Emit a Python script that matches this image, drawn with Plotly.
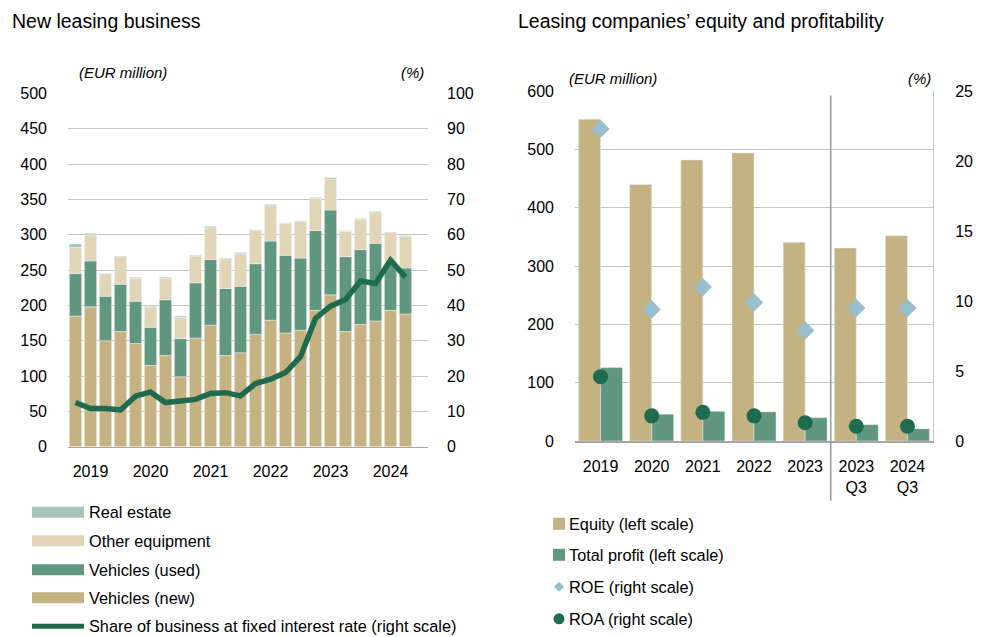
import plotly.graph_objects as go
import numpy as np

# ---------------- data ----------------
quarters = [f"{y} Q{q}" for y in range(2019, 2025) for q in range(1, 5)][:23]
year_ticks = ["2019 Q2", "2020 Q2", "2021 Q2", "2022 Q2", "2023 Q2", "2024 Q2"]
year_labels = ["2019", "2020", "2021", "2022", "2023", "2024"]

vehicles_new = [185, 198, 150, 163, 146, 115, 129, 99, 154, 172, 129, 133,
                159, 179, 161, 165, 193, 215, 163, 173, 178, 193, 188]
vehicles_used = [60, 65, 63, 67, 60, 54, 79, 54, 78, 93, 95, 94,
                 100, 112, 110, 102, 113, 120, 106, 106, 110, 67, 65]
other_equipment = [37, 37, 32, 39, 32, 29, 30, 30, 38, 45, 42, 46,
                   47, 50, 45, 52, 46, 44, 36, 43, 43, 43, 45]
real_estate = [5, 2, 1, 1, 2, 1, 2, 2, 1, 2, 1, 2,
               1, 2, 1, 1, 1, 2, 1, 1, 2, 1, 1]
fixed_share = [12.5, 10.8, 10.8, 10.4, 14.3, 15.5, 12.5, 13.0, 13.4, 15.1, 15.3, 14.4,
               17.9, 19.1, 21.0, 25.5, 36.3, 39.8, 41.7, 46.9, 46.2, 52.8, 48.0]

periods = ["2019", "2020", "2021", "2022", "2023", "2023 Q3", "2024 Q3"]
period_labels = ["2019", "2020", "2021", "2022", "2023", "2023<br>Q3", "2024<br>Q3"]
equity = [552, 440, 482, 494, 341, 331, 352]
total_profit = [126, 46, 51, 50, 40, 28, 21]
roe = [22.3, 9.4, 11.0, 9.9, 7.9, 9.5, 9.5]
roa = [4.6, 1.8, 2.05, 1.8, 1.3, 1.05, 1.05]

# ---------------- style ----------------
C_NEW = "#C5B283"
C_USED = "#62977F"
C_OTHER = "#E0D5B7"
C_RE = "#A6C6BA"
C_LINE = "#1E6B4E"
C_ROE = "#98BFCF"
GRID = "#C4C4C4"
AXIS = "#A6A6A6"
FONT = "Liberation Sans, Arial, sans-serif"

W, H = 985, 637
# vertical placement calibrated to the rendered picture
Y_OFF, Y_SCALE = 7.6, 0.9726
def px(x):
    return x / W
def py(y):
    return 1 - ((y - Y_OFF) / Y_SCALE) / H

fig = go.Figure()

# left stacked bars via cumulative bases
b_new = np.zeros(len(quarters))
b_used = b_new + np.array(vehicles_new)
b_other = b_used + np.array(vehicles_used)
b_re = b_other + np.array(other_equipment)
for name, vals, base, col in [
    ("Vehicles (new)", vehicles_new, b_new, C_NEW),
    ("Vehicles (used)", vehicles_used, b_used, C_USED),
    ("Other equipment", other_equipment, b_other, C_OTHER),
    ("Real estate", real_estate, b_re, C_RE),
]:
    fig.add_trace(go.Bar(x=quarters, y=vals, base=base, name=name, marker_color=col,
                         marker_line=dict(width=0.5, color="rgba(255,255,255,0.8)"),
                         width=0.82, xaxis="x", yaxis="y", showlegend=False))

fig.add_trace(go.Scatter(x=quarters, y=fixed_share, mode="lines",
                         line=dict(color=C_LINE, width=5.5),
                         xaxis="x", yaxis="y2", showlegend=False))

# right chart
fig.add_trace(go.Bar(x=periods, y=equity, marker_color=C_NEW, width=0.43, offset=-0.43,
                     xaxis="x2", yaxis="y3", showlegend=False))
fig.add_trace(go.Bar(x=periods, y=total_profit, marker_color=C_USED, width=0.43, offset=0.0,
                     xaxis="x2", yaxis="y3", showlegend=False))
fig.add_trace(go.Scatter(x=periods, y=roe, mode="markers",
                         marker=dict(symbol="diamond", size=14, color=C_ROE),
                         xaxis="x2", yaxis="y4", showlegend=False))
fig.add_trace(go.Scatter(x=periods, y=roa, mode="markers",
                         marker=dict(symbol="circle", size=15, color=C_LINE),
                         xaxis="x2", yaxis="y4", showlegend=False))

tickfont = dict(family=FONT, size=16, color="#000")

fig.update_layout(
    width=W, height=H, margin=dict(l=0, r=0, t=0, b=0),
    paper_bgcolor="white", plot_bgcolor="white",
    barmode="overlay", font=dict(family=FONT, color="#000"),
    xaxis=dict(domain=[px(68), px(428)], anchor="y", type="category",
               range=[-0.5, 23.5], tickvals=year_ticks, ticktext=year_labels,
               showline=True, linecolor=AXIS, linewidth=1.5, showgrid=False,
               ticks="", tickfont=tickfont, ticklabelstandoff=10),
    yaxis=dict(domain=[py(446), py(93)], anchor="x", range=[0, 500], dtick=50,
               showgrid=True, gridcolor=GRID, gridwidth=1, zeroline=False,
               tickfont=tickfont, ticklabelstandoff=20),
    yaxis2=dict(overlaying="y", side="right", anchor="x", range=[0, 100], dtick=10,
                showgrid=False, zeroline=False, tickfont=tickfont, ticklabelstandoff=18),
    xaxis2=dict(domain=[px(575), px(933)], anchor="y3", type="category",
                range=[-0.5, 6.5], tickvals=periods, ticktext=period_labels,
                showline=True, linecolor=AXIS, linewidth=1.5, showgrid=False,
                ticks="", tickfont=tickfont, ticklabelstandoff=10),
    yaxis3=dict(domain=[py(440.3), py(90.7)], anchor="x2", range=[0, 600], dtick=100,
                showgrid=True, gridcolor=GRID, gridwidth=1, zeroline=False,
                tickfont=tickfont, ticklabelstandoff=20),
    yaxis4=dict(overlaying="y3", side="right", anchor="x2", range=[0, 25], dtick=5,
                showgrid=False, zeroline=False, showline=True, linecolor=GRID,
                tickfont=tickfont, ticklabelstandoff=18),
)

# separator line in right chart
fig.add_shape(type="line", xref="x2", yref="paper", x0=4.5, x1=4.5,
              y0=py(500), y1=py(95), line=dict(color="#9A9A9A", width=1.5))

ann = []
def text(x, y, s, size=16, italic=False, xanchor="left"):
    ann.append(dict(x=px(x), y=py(y), xref="paper", yref="paper", text=s,
                    showarrow=False, xanchor=xanchor, yanchor="middle",
                    font=dict(family=FONT, size=size, color="#000",
                              style="italic" if italic else "normal")))

text(10, 21, "New leasing business", size=19.5)
text(516, 21, "Leasing companies’ equity and profitability", size=19.5)
text(77, 72, "(EUR million)", size=15, italic=True)
text(426, 72, "(%)", size=15, italic=True, xanchor="right")
text(567, 78, "(EUR million)", size=15, italic=True)
text(933, 78, "(%)", size=15, italic=True, xanchor="right")

# left legend
left_leg = [("Real estate", C_RE, 511.5), ("Other equipment", C_OTHER, 540),
            ("Vehicles (used)", C_USED, 569), ("Vehicles (new)", C_NEW, 597)]
for label, col, yc in left_leg:
    fig.add_shape(type="rect", xref="paper", yref="paper", x0=px(32), x1=px(84),
                  y0=py(yc + 5.5), y1=py(yc - 5.5), fillcolor=col, line_width=0)
    text(87, yc, label, size=16.3)
fig.add_shape(type="line", xref="paper", yref="paper", x0=px(32), x1=px(84),
              y0=py(625.5), y1=py(625.5), line=dict(color=C_LINE, width=5))
text(87, 625.5, "Share of business at fixed interest rate (right scale)", size=16.3)

# right legend
for label, col, yc in [("Equity (left scale)", C_NEW, 523), ("Total profit (left scale)", C_USED, 554)]:
    fig.add_shape(type="rect", xref="paper", yref="paper", x0=px(553), x1=px(565),
                  y0=py(yc + 6), y1=py(yc - 6), fillcolor=col, line_width=0)
    text(567, yc, label, size=16.3)
cx, cy, r = 559, 586, 5
fig.add_shape(type="path", xref="paper", yref="paper",
              path=f"M {px(cx - r)} {py(cy)} L {px(cx)} {py(cy - r)} L {px(cx + r)} {py(cy)} L {px(cx)} {py(cy + r)} Z",
              fillcolor=C_ROE, line_width=0)
text(567, 586, "ROE (right scale)", size=16.3)
fig.add_shape(type="circle", xref="paper", yref="paper", x0=px(553.5), x1=px(564.5),
              y0=py(623.5), y1=py(612.5), fillcolor=C_LINE, line_width=0)
text(567, 618, "ROA (right scale)", size=16.3)

fig.update_layout(annotations=ann)
post = ("document.documentElement.style.overflow='hidden';"
        "document.body.style.margin='0';document.body.style.overflow='hidden';"
        "var gd=document.getElementById('{plot_id}');"
        "gd.style.position='fixed';gd.style.top='0px';gd.style.left='0px';")
fig.write_html("out.html", config={"displayModeBar": False, "staticPlot": True},
               post_script=post)
